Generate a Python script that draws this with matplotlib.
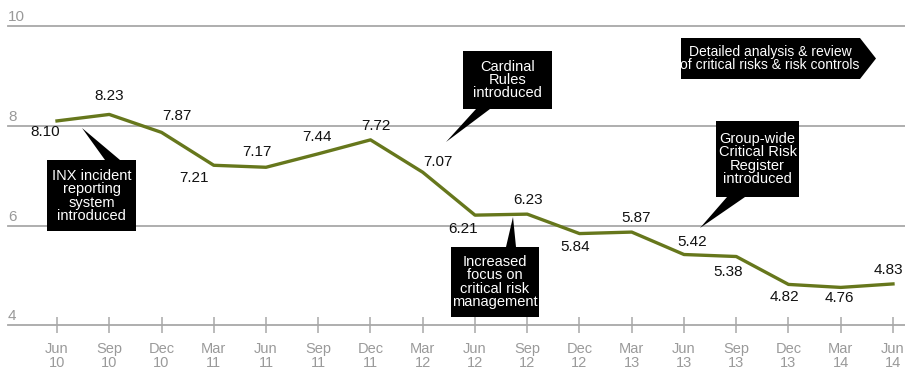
import matplotlib
matplotlib.use("Agg")
import matplotlib.pyplot as plt
from matplotlib.patches import Polygon

# data
months = ["Jun", "Sep", "Dec", "Mar", "Jun", "Sep", "Dec", "Mar", "Jun",
          "Sep", "Dec", "Mar", "Jun", "Sep", "Dec", "Mar", "Jun"]
years = ["10", "10", "10", "11", "11", "11", "11", "12", "12",
         "12", "12", "13", "13", "13", "13", "14", "14"]
values = [8.10, 8.23, 7.87, 7.21, 7.17, 7.44, 7.72, 7.07, 6.21,
          6.23, 5.84, 5.87, 5.42, 5.38, 4.82, 4.76, 4.83]
yticks = [4, 6, 8, 10]

# label offsets in pixels (dx right, dy down)
offsets = [(-12, 11), (0, -18), (15, -16), (-20, 13), (-9, -15), (-1, -17),
           (5, -14), (15, -10), (-12, 14), (1, -14), (-4, 13), (4, -14),
           (8, -13), (-8, 15), (-4, 13), (-1, 11), (-5, -14)]

font = ["Liberation Sans", "DejaVu Sans"]
W, H = 905, 372
olive = "#66771c"
grid_c = "#a8a8a8"

fig = plt.figure(figsize=(W / 100, H / 100), dpi=100)
ax = fig.add_axes([8 / W, (H - 325.3) / H, 897 / W, (325.3 - 26.2) / H])
ax.set_xlim(-0.938, 16.23)
ax.set_ylim(4, 10)
for s in ax.spines.values():
    s.set_visible(False)

x = list(range(len(values)))
for t in yticks:
    ax.axhline(t, color=grid_c, lw=1.3, zorder=1, clip_on=False)
    ax.annotate(str(t), xy=(0, t), xycoords=("axes fraction", "data"),
                xytext=(0, 1.5), textcoords="offset points", ha="left", va="bottom",
                fontsize=11, color="#999999", family=font)

ax.plot(x, values, color=olive, lw=2.4, zorder=3)

for xi, v, (dx, dy) in zip(x, values, offsets):
    ax.annotate(f"{v:.2f}", xy=(xi, v), xytext=(dx * 0.72, -dy * 0.72),
                textcoords="offset points", ha="center", va="center",
                fontsize=11, color="#111111", family=font)

ax.set_yticks([])
ax.set_xticks(x)
ax.set_xticklabels([f"{m}\n{y}" for m, y in zip(months, years)],
                   family=font, fontsize=10.5, color="#9a9a9a", linespacing=1.05)
ax.tick_params(axis="x", direction="inout", length=11.5, width=1.1,
               color=grid_c, pad=6)


def fp(px, py):
    return (px / W, 1 - py / H)


def callout(poly_px, text, cx, cy, size=10.5):
    fig.patches.append(Polygon([fp(a, b) for a, b in poly_px], closed=True,
                               transform=fig.transFigure, facecolor="black",
                               edgecolor="none", zorder=5))
    fig.text(cx / W, 1 - cy / H, text, ha="center", va="center", color="white",
             fontsize=size, family=font, linespacing=0.92, zorder=6)


callout([(47, 160), (105, 160), (82, 128), (120, 160), (136, 160), (136, 231), (47, 231)],
        "INX incident\nreporting\nsystem\nintroduced", 91.5, 196)
callout([(463, 51), (552, 51), (552, 109), (490, 109), (446, 142), (476, 109), (463, 109)],
        "Cardinal\nRules\nintroduced", 507.5, 80)
callout([(451, 247), (506, 247), (513, 217), (516, 247), (539, 247), (539, 317), (451, 317)],
        "Increased\nfocus on\ncritical risk\nmanagement", 495, 282)
callout([(681, 38), (860, 38), (876, 58.5), (860, 79), (681, 79)],
        "Detailed analysis & review\nof critical risks & risk controls", 770, 58.5, size=10)
callout([(716, 121), (799, 121), (799, 197), (745, 197), (700, 228), (727, 197), (716, 197)],
        "Group-wide\nCritical Risk\nRegister\nintroduced", 757.5, 159)

fig.savefig("out.png", dpi=100, facecolor="white")
